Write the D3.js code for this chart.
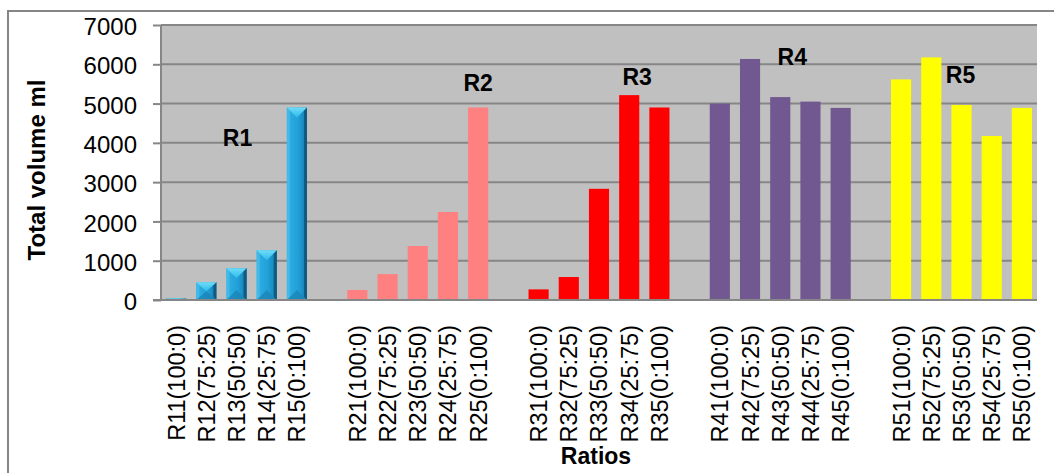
<!DOCTYPE html>
<html>
<head>
<meta charset="utf-8">
<script src="https://cdn.jsdelivr.net/npm/d3@7"></script>
<style>
  html, body { margin: 0; padding: 0; background: #fff; }
  svg { display: block; font-family: "Liberation Sans", Arial, sans-serif; }
</style>
</head>
<body>
<svg id="chart" width="1054" height="473"></svg>
<script>
// Mixing ratios per reactor group; an empty slot separates the groups.
const categories = [
  "R11(100:0)", "R12(75:25)", "R13(50:50)", "R14(25:75)", "R15(0:100)", "",
  "R21(100:0)", "R22(75:25)", "R23(50:50)", "R24(25:75)", "R25(0:100)", " ",
  "R31(100:0)", "R32(75:25)", "R33(50:50)", "R34(25:75)", "R35(0:100)", "  ",
  "R41(100:0)", "R42(75:25)", "R43(50:50)", "R44(25:75)", "R45(0:100)", "   ",
  "R51(100:0)", "R52(75:25)", "R53(50:50)", "R54(25:75)", "R55(0:100)"
];

// Total volume (ml) for each group
const r1Values = [40, 450, 810, 1265, 4900];
const r2Values = [255, 660, 1375, 2240, 4900];
const r3Values = [270, 585, 2830, 5215, 4900];
const r4Values = [5000, 6135, 5165, 5050, 4890];
const r5Values = [5615, 6175, 4965, 4175, 4890];

const groupNames = ["R1", "R2", "R3", "R4", "R5"];
const groupColors = ["#1E96CF", "#FF8080", "#FF0000", "#725890", "#FFFF00"];

const yTicks = [0, 1000, 2000, 3000, 4000, 5000, 6000, 7000];

// Group captions, anchored on a category and a value
const captions = [
  { text: "R1", cat: "R13(50:50)", value: 4120, dx: 1 },
  { text: "R2", cat: "R25(0:100)", value: 5520, dx: 0 },
  { text: "R3", cat: "R34(25:75)", value: 5680, dx: 8 },
  { text: "R4", cat: "R43(50:50)", value: 6185, dx: 12 },
  { text: "R5", cat: "R53(50:50)", value: 5725, dx: -1 }
];

const groups = [r1Values, r2Values, r3Values, r4Values, r5Values];
const bars = [];
groups.forEach((vals, g) => {
  vals.forEach((v, i) => {
    bars.push({ cat: categories[g * 6 + i], value: v, group: g });
  });
});

const svg = d3.select("#chart");
const plot = { left: 161, right: 1037, top: 25, bottom: 300 };
const gridColor = "#868686";

// Outer chart frame
svg.append("rect")
  .attr("x", 8).attr("y", 11)
  .attr("width", 1100).attr("height", 500)
  .attr("fill", "#fff")
  .attr("stroke", gridColor).attr("stroke-width", 2);

const x = d3.scaleBand()
  .domain(categories)
  .range([plot.left, plot.right])
  .paddingInner(1 / 3)
  .paddingOuter(1 / 6);

const y = d3.scaleLinear()
  .domain([0, 7000])
  .range([plot.bottom, plot.top]);

// Plot area background
svg.append("rect")
  .attr("x", plot.left).attr("y", plot.top)
  .attr("width", plot.right - plot.left).attr("height", plot.bottom - plot.top)
  .attr("fill", "#C0C0C0");

// Horizontal gridlines
svg.append("g")
  .selectAll("line")
  .data(yTicks.filter(t => t > 0))
  .join("line")
  .attr("x1", plot.left).attr("x2", plot.right)
  .attr("y1", d => y(d)).attr("y2", d => y(d))
  .attr("stroke", gridColor).attr("stroke-width", 2);

// Bevelled gradient for the first group
const defs = svg.append("defs");
const body = defs.append("linearGradient").attr("id", "r1body")
  .attr("x1", "0").attr("x2", "1").attr("y1", "0").attr("y2", "0");
body.append("stop").attr("offset", "0").attr("stop-color", "#30B0E3");
body.append("stop").attr("offset", "0.55").attr("stop-color", "#21A0D9");
body.append("stop").attr("offset", "0.8").attr("stop-color", "#1B8DC2");
body.append("stop").attr("offset", "1").attr("stop-color", "#136C98");
const topG = defs.append("linearGradient").attr("id", "r1top")
  .attr("x1", "0").attr("x2", "0").attr("y1", "0").attr("y2", "1");
topG.append("stop").attr("offset", "0").attr("stop-color", "#6FDCF8");
topG.append("stop").attr("offset", "1").attr("stop-color", "#2DBBEA");

const barG = svg.append("g");
bars.forEach(d => {
  const bx = x(d.cat), bw = x.bandwidth();
  const by = y(d.value), bh = y(0) - y(d.value);
  if (d.group === 0) {
    const g = barG.append("g");
    g.append("rect").attr("x", bx).attr("y", by).attr("width", bw).attr("height", bh)
      .attr("fill", "url(#r1body)");
    const s = Math.min(3, bh / 2);
    g.append("polygon")
      .attr("points", [[bx, by], [bx + s, by + s], [bx + s, by + bh - s], [bx, by + bh]].join(" "))
      .attr("fill", "#40BAE8");
    g.append("polygon")
      .attr("points", [[bx + bw, by], [bx + bw - s, by + s], [bx + bw - s, by + bh - s], [bx + bw, by + bh]].join(" "))
      .attr("fill", "#0E5A80");
    const t = Math.min(bw / 2, bh / 2);
    g.append("polygon")
      .attr("points", [[bx, by], [bx + bw, by], [bx + bw / 2, by + t]].join(" "))
      .attr("fill", "url(#r1top)");
    g.append("polygon")
      .attr("points", [[bx, by + bh], [bx + bw, by + bh], [bx + bw / 2, by + bh - t]].join(" "))
      .attr("fill", "#1C84B6").attr("opacity", 0.8);
  } else {
    barG.append("rect").attr("x", bx).attr("y", by).attr("width", bw).attr("height", bh)
      .attr("fill", groupColors[d.group]);
  }
});

// Axis lines
svg.append("line")
  .attr("x1", plot.left - 8).attr("x2", plot.right)
  .attr("y1", plot.bottom).attr("y2", plot.bottom)
  .attr("stroke", gridColor).attr("stroke-width", 2);
svg.append("line")
  .attr("x1", plot.left).attr("x2", plot.left)
  .attr("y1", plot.top).attr("y2", plot.bottom)
  .attr("stroke", gridColor).attr("stroke-width", 2);

// Y axis
const yAxis = d3.axisLeft(y).tickValues(yTicks).tickFormat(d3.format("d"))
  .tickSize(8).tickPadding(16);
const ya = svg.append("g").attr("transform", `translate(${plot.left},0)`).call(yAxis);
ya.select(".domain").remove();
ya.selectAll(".tick line").attr("stroke", gridColor).attr("stroke-width", 2);
ya.selectAll(".tick text")
  .attr("font-size", 24).attr("fill", "#000")
  .attr("font-family", "Liberation Sans, Arial, sans-serif")
  .attr("dy", "0.4em");

// X axis category labels, rotated
const xAxis = d3.axisBottom(x).tickSize(0).tickPadding(0);
const xa = svg.append("g").attr("transform", `translate(0,${plot.bottom})`).call(xAxis);
xa.select(".domain").remove();
xa.selectAll(".tick text")
  .attr("font-size", 23.5).attr("fill", "#000")
  .attr("font-family", "Liberation Sans, Arial, sans-serif")
  .attr("text-anchor", "end")
  .attr("transform", "rotate(-90)")
  .attr("x", -25).attr("y", 0).attr("dy", "0.36em");

// Axis titles
svg.append("text")
  .attr("transform", "translate(45,170) rotate(-90)")
  .attr("text-anchor", "middle")
  .attr("font-size", 24).attr("font-weight", "bold")
  .text("Total volume ml");
svg.append("text")
  .attr("x", (plot.left + plot.right) / 2 - 3).attr("y", 464)
  .attr("text-anchor", "middle")
  .attr("font-size", 23).attr("font-weight", "bold")
  .text("Ratios");

// Group captions
svg.append("g")
  .selectAll("text")
  .data(captions)
  .join("text")
  .attr("x", d => x(d.cat) + x.bandwidth() / 2 + d.dx)
  .attr("y", d => y(d.value))
  .attr("dy", "0.36em")
  .attr("text-anchor", "middle")
  .attr("font-size", 23).attr("font-weight", "bold")
  .text(d => d.text);
</script>
</body>
</html>
